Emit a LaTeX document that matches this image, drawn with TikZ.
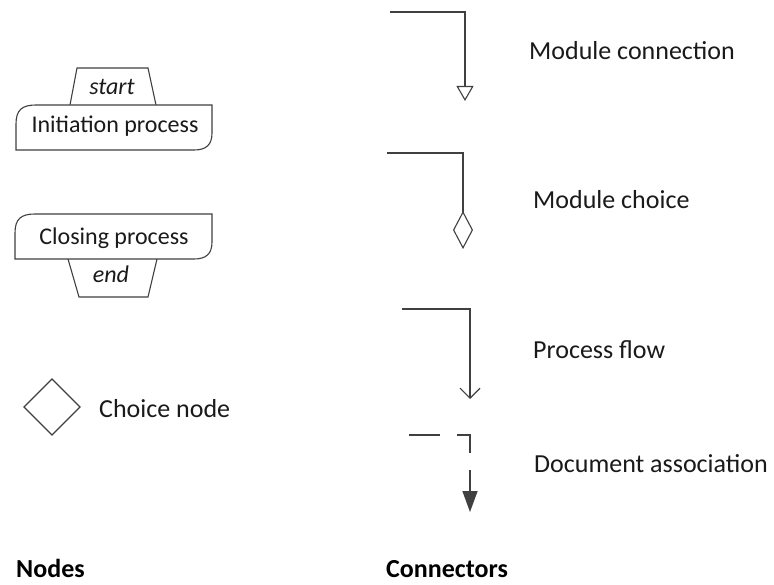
\documentclass[tikz,border=0pt]{standalone}
\usepackage{fontspec}
\setmainfont{Carlito}
\usetikzlibrary{arrows.meta}
\definecolor{linegray}{HTML}{404040}
\definecolor{textdark}{HTML}{1A1A1A}
\tikzset{
  shapeline/.style={draw=linegray, line width=1.1pt, fill=white},
  conn/.style={draw=linegray, line width=1.4pt},
  nodetext/.style={anchor=base, inner sep=0pt, text=textdark, font=\fontsize{24}{27}\selectfont},
  tagtext/.style={nodetext, font=\fontsize{24}{27}\selectfont\itshape},
  legendtext/.style={anchor=base west, inner sep=0pt, text=textdark, font=\fontsize{26}{29}\selectfont},
  headtext/.style={anchor=base west, inner sep=0pt, text=black, font=\fontsize{26}{29}\selectfont\bfseries},
}
\begin{document}
\begin{tikzpicture}[x=1pt, y=-1pt]
\useasboundingbox[fill=white] (0,0) rectangle (774,585);

% --- initiation process with start tag ---
\draw[shapeline] (70,105) -- (77,68) -- (148,68) -- (156,105);
\draw[shapeline] (16,150) -- (16,124) .. controls (16,110) and (22,105) .. (36,105)
  -- (212,105) -- (212,133) .. controls (212,145) and (206,150) .. (194,150) -- cycle;
\node[tagtext] (start) at (112,95) {start};
\node[nodetext] (init) at (115,133) {Initiation process};

% --- closing process with end tag ---
\draw[shapeline] (68,259) -- (79,297) -- (148,297) -- (157,259);
\draw[shapeline] (15,259) -- (15,233) .. controls (15,219) and (21,214) .. (35,214)
  -- (212,214) -- (212,242) .. controls (212,254) and (206,259) .. (194,259) -- cycle;
\node[nodetext] (close) at (114,245) {Closing process};
\node[tagtext] (end) at (111,283) {end};

% --- choice node ---
\draw[draw=linegray, line width=1.1pt] (24,407) -- (52,379) -- (80,407) -- (52,435) -- cycle;
\node[legendtext] (choice) at (99,417) {Choice node};

% --- connector samples ---
\coordinate (mcA) at (390,12);
\coordinate (mcB) at (465,12);
\coordinate (mcC) at (465,101);
\draw[conn, -{Triangle[open, length=15pt, width=17pt, line width=1.1pt]}] (mcA) -- (mcB) -- (mcC);
\node[legendtext] (mclabel) at (529,60) {Module connection};

\coordinate (chA) at (387,153);
\coordinate (chB) at (463,153);
\coordinate (chC) at (463,249);
\draw[conn, -{Diamond[open, length=38pt, width=20pt, line width=1.1pt]}] (chA) -- (chB) -- (chC);
\node[legendtext] (chlabel) at (533,209) {Module choice};

\coordinate (pfA) at (402,309);
\coordinate (pfB) at (470,309);
\coordinate (pfC) at (470,399);
\draw[conn, -{Straight Barb[length=10pt, width=20pt, line width=1.1pt]}] (pfA) -- (pfB) -- (pfC);
\node[legendtext] (pflabel) at (533,359) {Process flow};

\coordinate (daA) at (409,435);
\coordinate (daB) at (470,435);
\coordinate (daC) at (470,512);
\draw[conn, dash pattern=on 31pt off 17pt, -{Triangle[length=21pt, width=15pt]}] (daA) -- (daB) -- (daC);
\node[legendtext] (dalabel) at (534,472) {Document association};

% --- column headings ---
\node[headtext] (nodeshead) at (16,577) {Nodes};
\node[headtext] (connhead) at (386,577) {Connectors};
\end{tikzpicture}
\end{document}
